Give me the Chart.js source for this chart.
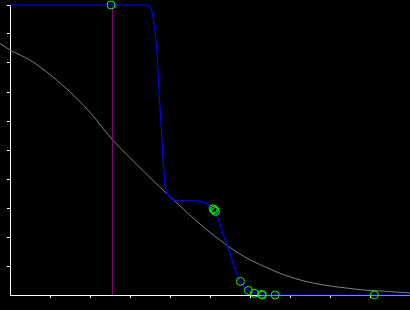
<!DOCTYPE html>
<html>
<head>
<meta charset="utf-8">
<script src="https://cdn.jsdelivr.net/npm/chart.js@4.4.0/dist/chart.umd.min.js"></script>
<style>
  html, body { margin: 0; padding: 0; background: #000; }
  #wrap { width: 410px; height: 310px; }
</style>
</head>
<body>
<div id="wrap"><canvas id="chart"></canvas></div>
<script>
// gray reference curve
const grayX = [-0.25, 0, 0.57, 1.4, 2.0, 2.57, 2.93, 3.74, 4.0, 4.86, 5.36, 5.86, 6.36, 6.86, 7.36, 7.86, 8.36, 8.86, 9.36, 10];
const grayY = [8.67, 8.45, 8.04, 7.13, 6.3, 5.34, 4.83, 3.73, 3.39, 2.32, 1.78, 1.32, 0.98, 0.69, 0.48, 0.34, 0.25, 0.17, 0.13, 0.07];

// blue fitted curve
const blueX = [0, 3.40, 3.49, 3.54, 3.57, 3.61, 3.64, 3.67, 3.69, 3.71, 3.74, 3.77, 3.80, 3.82, 3.85, 3.87, 3.91, 3.99, 4.07, 4.24, 4.57, 4.78, 4.91, 4.99, 5.11, 5.20, 5.28, 5.36, 5.45, 5.53, 5.61, 5.70, 5.76, 5.93, 6.09, 6.29, 10];
const blueY = [10, 10, 9.94, 9.83, 9.6, 9.25, 8.91, 8.45, 8.0, 7.41, 6.72, 6.03, 5.34, 4.77, 4.31, 3.85, 3.56, 3.39, 3.28, 3.26, 3.25, 3.22, 3.16, 3.04, 2.90, 2.66, 2.3, 1.97, 1.63, 1.3, 0.96, 0.63, 0.46, 0.17, 0.06, 0, 0];

// measured points (green circles)
const ptX = [2.525, 5.08, 5.11, 5.14, 5.76, 5.96, 6.11, 6.29, 6.31, 6.63, 9.11];
const ptY = [10, 2.97, 2.93, 2.88, 0.47, 0.16, 0.06, 0.02, 0, 0, 0];

// vertical marker
const markerX = 2.5625;
const markerY = [0, 10];

const toXY = (xs, ys) => xs.map((x, i) => ({ x: x, y: ys[i] }));

const tickColor = ctx => (ctx.tick && ctx.tick.value === 0) ? 'rgba(0,0,0,0)' : '#ffffff';

new Chart(document.getElementById('chart').getContext('2d'), {
  type: 'line',
  data: {
    datasets: [
      {
        data: toXY(ptX, ptY),
        showLine: false,
        pointRadius: 4,
        pointBorderWidth: 1,
        pointBorderColor: '#00ff00',
        pointBackgroundColor: 'rgba(0,0,0,0)',
        clip: false
      },
      {
        data: toXY(blueX, blueY),
        borderColor: '#0000ff',
        borderWidth: 1.2,
        pointRadius: 0,
        cubicInterpolationMode: 'monotone',
        clip: false
      },
      {
        data: toXY([markerX, markerX], markerY),
        borderColor: '#800080',
        borderWidth: 1,
        pointRadius: 0
      },
      {
        data: toXY(grayX, grayY),
        borderColor: '#808080',
        borderWidth: 1,
        pointRadius: 0,
        cubicInterpolationMode: 'monotone',
        clip: false
      }
    ]
  },
  options: {
    responsive: true,
    maintainAspectRatio: false,
    animation: false,
    layout: { autoPadding: false, padding: { left: 7, top: 5, right: 0, bottom: 12 } },
    plugins: { legend: { display: false }, tooltip: { enabled: false } },
    scales: {
      x: {
        type: 'linear',
        min: 0,
        max: 10,
        ticks: { display: false, stepSize: 1 },
        grid: { drawOnChartArea: false, drawTicks: true, tickLength: 3, color: tickColor },
        border: { color: '#ffffff', width: 1 }
      },
      y: {
        type: 'linear',
        min: 0,
        max: 10,
        ticks: { display: false, stepSize: 1 },
        grid: { drawOnChartArea: false, drawTicks: true, tickLength: 3, color: tickColor },
        border: { color: '#ffffff', width: 1 }
      }
    }
  }
});
</script>
</body>
</html>
